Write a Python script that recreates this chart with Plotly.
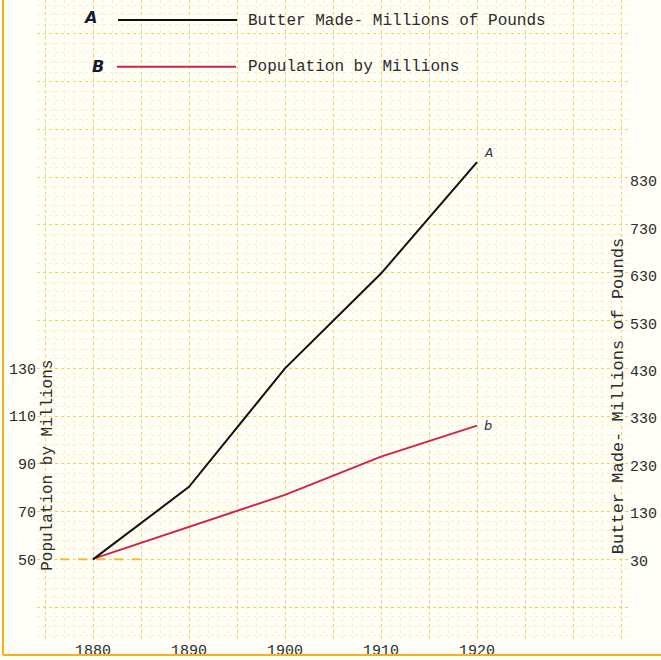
import plotly.graph_objects as go

# ---- data ----
years = [1880, 1890, 1900, 1910, 1920]
butter_millions_lbs = [32, 185, 435, 635, 870]
population_millions = [50.2, 63.5, 77, 93, 106]

x_tick_years = [1880, 1890, 1900, 1910, 1920]
pop_tick_vals = [50, 70, 90, 110, 130]
butter_tick_vals = [30, 130, 230, 330, 430, 530, 630, 730, 830]

butter_label = "Butter Made- Millions of Pounds"
pop_label = "Population by Millions"

# ---- layout geometry (pixels) ----
W, H = 661, 660
PL, PR, PT, PB = 37, 629, 0, 642


def px(xp):
    return (xp - PL) / (PR - PL)


def py(yp):
    return (PB - yp) / (PB - PT)


FONT = "Liberation Mono"
INK = "#2b2b2b"
RED = "#d4204c"
BLACK = "#111111"
MAJOR = "rgba(240,185,20,0.55)"
MINOR = "rgba(245,205,60,0.28)"

# grid ticks (graph paper): every 5 years / every 20 million
x_grid = list(range(1870, 1940, 5))
x_text = [str(v) if v in x_tick_years else "" for v in x_grid]
y_grid = list(range(10, 290, 20))
y_text = [str(v) if v in pop_tick_vals else "" for v in y_grid]

fig = go.Figure()
fig.add_trace(go.Scatter(x=years, y=population_millions, mode="lines",
                         line=dict(color=RED, width=2), yaxis="y",
                         name=pop_label, showlegend=False))
fig.add_trace(go.Scatter(x=years, y=butter_millions_lbs, mode="lines",
                         line=dict(color=BLACK, width=2), yaxis="y2",
                         name=butter_label, showlegend=False))

fig.update_layout(
    width=W, height=H, autosize=False,
    margin=dict(l=PL, r=W - PR, t=PT, b=H - PB, pad=0),
    paper_bgcolor="#fffef7", plot_bgcolor="#fffef7",
    font=dict(family=FONT, color=INK, size=15),
    xaxis=dict(range=[1874.1667, 1935.8333], tickvals=x_grid, ticktext=x_text,
               showgrid=True, gridcolor=MAJOR, gridwidth=1, griddash="dot",
               zeroline=False, showline=False, ticks="",
               tickfont=dict(size=15, family=FONT, color=INK),
               minor=dict(dtick=1, tick0=1880, showgrid=True, gridcolor=MINOR,
                          griddash="dot", gridwidth=1)),
    yaxis=dict(range=[16.6667, 284.1667], tickvals=y_grid, ticktext=y_text,
               showgrid=True, gridcolor=MAJOR, gridwidth=1, griddash="dot",
               zeroline=False, showline=False, ticks="",
               tickfont=dict(size=15, family=FONT, color=INK),
               minor=dict(dtick=4, tick0=50, showgrid=True, gridcolor=MINOR,
                          griddash="dot", gridwidth=1)),
    yaxis2=dict(range=[-135.88, 1212.15], overlaying="y", side="right",
                tickvals=butter_tick_vals, showgrid=False, zeroline=False,
                showline=False, ticks="",
                tickfont=dict(size=15, family=FONT, color=INK)),
)

C = dict(xanchor="center", yanchor="middle", showarrow=False)
annotations = [
    # axis titles inside the plot
    dict(x=px(48), y=py(468), xref="paper", yref="paper", text=pop_label,
         textangle=-90, font=dict(size=16, family=FONT, color=INK), **C),
    dict(x=px(618), y=py(398), xref="paper", yref="paper", text=butter_label,
         textangle=-90, font=dict(size=17, family=FONT, color=INK), **C),
    # legend texts
    dict(x=px(246), y=py(21), xref="paper", yref="paper", text=butter_label,
         xanchor="left", yanchor="middle", showarrow=False,
         font=dict(size=16, family=FONT, color=INK)),
    dict(x=px(246), y=py(67), xref="paper", yref="paper", text=pop_label,
         xanchor="left", yanchor="middle", showarrow=False,
         font=dict(size=16, family=FONT, color=INK)),
    # handwritten legend letters
    dict(x=px(90), y=py(18), xref="paper", yref="paper", text="<b><i>A</i></b>",
         font=dict(size=16, family="DejaVu Sans", color="#151a2e"), **C),
    dict(x=px(98), y=py(67), xref="paper", yref="paper", text="<b><i>B</i></b>",
         font=dict(size=16, family="DejaVu Sans", color="#151a2e"), **C),
    # line-end letters
    dict(x=years[-1], y=butter_millions_lbs[-1], xref="x", yref="y2", text="<i>A</i>",
         xshift=11, yshift=9, font=dict(size=12, family="DejaVu Sans", color="#2a3045"), **C),
    dict(x=years[-1], y=population_millions[-1], xref="x", yref="y", text="<i>b</i>",
         xshift=11, yshift=0, font=dict(size=13, family="DejaVu Sans", color="#2a3045"), **C),
]
fig.update_layout(annotations=annotations)

shapes = [
    # legend line samples
    dict(type="line", xref="paper", yref="paper", x0=px(118), x1=px(237),
         y0=py(20), y1=py(20), line=dict(color=BLACK, width=2)),
    dict(type="line", xref="paper", yref="paper", x0=px(117), x1=px(236),
         y0=py(67), y1=py(67), line=dict(color=RED, width=2)),
    # graph-paper border lines
    dict(type="line", xref="paper", yref="paper", x0=px(3), x1=px(3),
         y0=py(0), y1=py(658), line=dict(color="#f2b21c", width=2)),
    dict(type="line", xref="paper", yref="paper", x0=px(3), x1=px(661),
         y0=py(658), y1=py(658), line=dict(color="#f2b21c", width=2)),
    # heavier orange paper line at 50
    dict(type="line", xref="paper", yref="y", x0=px(60), x1=px(140),
         y0=50, y1=50, line=dict(color="#f5c030", width=2, dash="dash"), layer="below"),
]
fig.update_layout(shapes=shapes)

fig.write_html(
    "out.html",
    config={"displayModeBar": False},
    post_script="document.body.style.margin='0';document.body.style.padding='0';"
                "document.documentElement.style.overflow='hidden';",
)
